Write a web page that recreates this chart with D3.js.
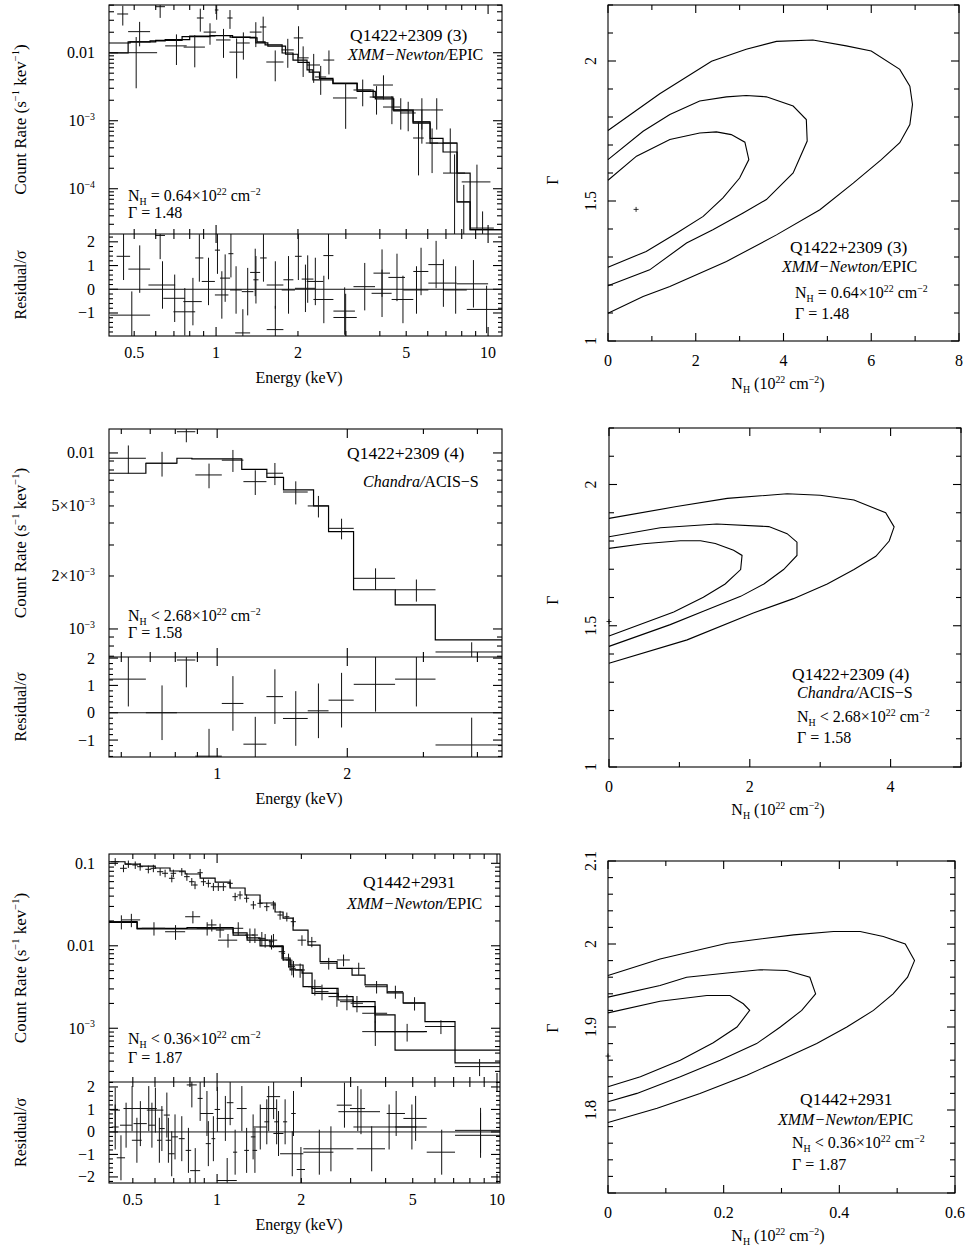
<!DOCTYPE html>
<html><head><meta charset="utf-8">
<script src="https://cdn.jsdelivr.net/npm/d3@7"></script>
<style>
body{margin:0;background:#fff}
svg{display:block}
text{font-family:"Liberation Serif","Times New Roman",serif;fill:#000}
</style></head><body>
<svg id="c" width="966" height="1250"></svg>
<script>
// ---------- Panel 1: Q1422+2309 (3) XMM spectrum ----------
// [Elo, Ehi, rate, sigma]
const spec1Data = [
[0.433,0.475,0.0371,0.012],[0.475,0.572,0.0204,0.008],[0.41,0.607,0.0100,0.007],[0.597,0.649,0.0475,0.015],
[0.65,0.78,0.0126,0.006],[0.76,0.91,0.0121,0.006],[0.85,0.90,0.0324,0.012],[0.90,1.00,0.0201,0.007],
[0.99,1.02,0.0425,0.012],[1.10,1.15,0.0324,0.010],[1.00,1.13,0.0154,0.007],[1.12,1.26,0.0102,0.006],
[1.19,1.33,0.0139,0.006],[1.33,1.47,0.0201,0.008],[1.45,1.53,0.0239,0.010],[1.53,1.77,0.0073,0.0035],
[1.74,1.93,0.0110,0.005],[1.93,2.09,0.0165,0.008],[1.99,2.19,0.0084,0.004],[2.16,2.41,0.0066,0.003],
[2.31,2.54,0.0044,0.002],[2.48,2.72,0.0078,0.003],[2.69,3.30,0.00216,0.0014],[3.20,3.72,0.00283,0.0012],
[3.67,4.11,0.00223,0.001],[3.78,4.47,0.00335,0.0013],[4.11,4.75,0.00159,0.0007],[4.47,5.08,0.00144,0.0007],
[4.75,5.42,0.0013,0.0006],[5.30,6.12,0.00144,0.0007],[6.12,6.83,0.00144,0.0007],[5.30,6.12,0.00096,0.0005],
[5.30,5.80,0.000557,0.0004],[5.90,6.55,0.00047,0.0003],[6.83,7.69,0.00047,0.0003],[6.83,8.23,0.00017,0.00015],
[8.00,10.2,0.000126,0.0001],[7.69,8.59,6.4e-5,5e-5],[8.59,10.5,2.64e-5,2e-5]
];
// [Elo, Ehi, model rate]
const spec1ModelA = [
[0.404,0.483,0.0139],[0.483,0.572,0.0144],[0.572,0.65,0.0149],[0.65,0.80,0.0156],[0.80,0.99,0.0176],
[0.99,1.126,0.0179],[1.126,1.334,0.0170],[1.334,1.415,0.0165],[1.415,1.514,0.0144],[1.514,1.749,0.0130],
[1.749,1.918,0.0099],[1.918,2.16,0.0078],[2.16,2.27,0.0056],[2.27,2.69,0.0040],[2.69,3.30,0.00358],
[3.30,3.78,0.00283],[3.78,4.47,0.00223],[4.47,5.30,0.00144],[5.30,6.12,0.00096],[6.12,6.83,0.00047],
[6.83,7.69,0.000347],[7.69,8.59,0.00017],[8.59,11.25,2.5e-5]
];
const spec1ModelB = [
[0.404,0.475,0.0099],[0.475,0.60,0.0144],[0.60,0.75,0.0152],[0.75,0.95,0.0172],[0.95,1.15,0.0178],
[1.15,1.40,0.0168],[1.40,1.55,0.0140],[1.55,1.80,0.0125],[1.80,2.00,0.0095],[2.00,2.20,0.0072],
[2.20,2.40,0.0052],[2.40,2.69,0.0042],[2.69,3.30,0.0035],[3.30,3.85,0.0027],[3.85,4.50,0.0021],
[4.50,5.30,0.0014],[5.30,6.12,0.00092],[6.12,6.83,0.00055],[6.83,7.69,0.00047],[7.69,8.59,6.4e-5],
[8.59,11.25,2.5e-5]
];
// [Elo, Ehi, residual/sigma]
const res1Data = [
[0.431,0.483,1.39],[0.408,0.572,-1.09],[0.476,0.572,0.85],[0.597,0.649,2.27],[0.564,0.707,0.18],
[0.640,0.769,-0.38],[0.697,0.838,-0.95],[0.758,0.886,-0.52],[0.838,0.898,1.32],[0.886,0.99,0.33],
[0.99,1.034,1.65],[0.99,1.11,-0.24],[1.034,1.126,0.47],[1.11,1.158,1.5],[1.126,1.243,-0.03],
[1.175,1.334,-1.84],[1.243,1.371,-0.1],[1.334,1.452,0.71],[1.371,1.432,0.4],[1.452,1.535,1.32],
[1.535,1.768,0.18],[1.535,1.768,-1.7],[1.768,1.924,0.4],[1.743,1.950,-0.03],[1.950,2.064,1.39],
[1.950,2.312,0.04],[2.064,2.28,0.43],[2.154,2.48,0.33],[2.28,2.70,-0.43],[2.48,2.70,1.42],
[2.70,3.24,-0.92],[2.70,3.29,-1.19],[3.20,3.84,0.11],[3.79,4.36,0.68],[3.73,4.42,-0.17],
[4.30,4.95,0.5],[4.42,5.31,-0.43],[4.88,6.03,-0.03],[5.31,6.03,0.75],[6.03,6.85,1.04],
[6.03,7.67,0.26],[6.85,8.35,-0.03],[7.67,10.0,0.23],[8.35,11.4,-0.85]
];

// ---------- Panel 3: Q1422+2309 (4) Chandra spectrum ----------
const spec3Data = [
[0.562,0.684,0.00933,0.0017],[0.684,0.807,0.00874,0.0014],[0.807,0.89,0.0132,0.0017],[0.89,1.025,0.0075,0.0012],
[1.025,1.15,0.0091,0.0013],[1.15,1.30,0.00687,0.0011],[1.30,1.42,0.00767,0.0011],[1.42,1.62,0.0060,0.0009],
[1.62,1.81,0.0050,0.0007],[1.81,2.07,0.00373,0.0005],[2.07,2.58,0.00194,0.00027],[2.58,3.20,0.00167,0.00024],
[3.20,4.56,0.00074,0.0001]
];
const spec3Model = [
[0.562,0.684,0.00767],[0.684,0.807,0.00874],[0.807,0.874,0.00933],[0.874,1.14,0.00925],[1.14,1.303,0.00807],
[1.303,1.424,0.00727],[1.424,1.671,0.00617],[1.671,1.81,0.0050],[1.81,2.068,0.00357],[2.068,2.582,0.00167],
[2.582,3.196,0.00137],[3.196,4.56,0.000866]
];
const res3Data = [
[0.562,0.684,1.23],[0.684,0.807,0.0],[0.807,0.89,1.93],[0.89,1.025,-1.59],[1.025,1.15,0.34],[1.15,1.30,-1.15],
[1.30,1.42,0.59],[1.42,1.62,-0.21],[1.62,1.81,0.07],[1.81,2.07,0.46],[2.07,2.58,1.04],[2.58,3.20,1.23],
[3.20,4.56,-1.18]
];

// ---------- Panel 5: Q1442+2931 XMM spectrum ----------
const spec5DataPN = [
[0.418,0.447,0.1046,0.011],[0.450,0.476,0.087,0.009],[0.470,0.494,0.098,0.010],[0.498,0.522,0.0954,0.010],
[0.518,0.544,0.091,0.0095],[0.554,0.582,0.0846,0.009],[0.578,0.606,0.0870,0.009],[0.610,0.642,0.0791,0.0085],
[0.636,0.668,0.0757,0.008],[0.673,0.705,0.0658,0.007],[0.682,0.714,0.0757,0.008],[0.731,0.765,0.0791,0.0085],
[0.762,0.798,0.0689,0.0075],[0.794,0.830,0.0598,0.0065],[0.816,0.852,0.0546,0.006],[0.851,0.889,0.0769,0.0085],
[0.875,0.913,0.0598,0.0065],[0.911,0.951,0.0572,0.0062],[0.949,0.991,0.052,0.0058],[0.988,1.032,0.052,0.0058],
[1.028,1.078,0.052,0.0058],[1.088,1.138,0.0572,0.0065],[1.134,1.186,0.0394,0.0045],[1.182,1.234,0.0413,0.0047],
[1.248,1.302,0.0377,0.0043],[1.318,1.378,0.0313,0.0036],[1.393,1.455,0.0327,0.0038],[1.472,1.538,0.0298,0.0035],
[1.554,1.624,0.0313,0.0037],[1.643,1.715,0.0236,0.0029],[1.738,1.812,0.0225,0.0028],[1.833,1.912,0.0196,0.0025],
[1.94,2.08,0.0117,0.0017],[2.10,2.26,0.0112,0.0016],[2.33,2.68,0.00614,0.0010],[2.68,2.98,0.00673,0.0011],
[3.035,3.378,0.00533,0.0009],[3.378,4.05,0.00319,0.00055],[4.05,4.62,0.00278,0.0005],[4.62,5.53,0.00201,0.00037],
[5.53,7.08,0.00105,0.0002],[7.08,10.25,0.000343,0.00008]
];
const spec5DataMOS = [
[0.42,0.49,0.0196,0.0038],[0.457,0.531,0.0206,0.0038],[0.538,0.652,0.0163,0.003],[0.652,0.769,0.0148,0.003],
[0.769,0.870,0.0225,0.0038],[0.846,0.997,0.0163,0.003],[0.92,0.995,0.0179,0.003],[0.99,1.06,0.0155,0.003],
[1.008,1.18,0.0117,0.0022],[1.14,1.24,0.0163,0.003],[1.26,1.36,0.0135,0.0027],[1.40,1.49,0.0123,0.0024],
[1.54,1.64,0.0117,0.0022],[1.66,1.75,0.00848,0.0016],[1.76,1.84,0.00673,0.0013],[1.84,1.91,0.00533,0.0012],
[1.33,1.40,0.0135,0.0027],[1.45,1.52,0.0117,0.0022],[1.53,1.60,0.0112,0.0022],[1.70,1.75,0.0081,0.0015],
[1.80,1.90,0.00558,0.0012],[1.90,2.06,0.00509,0.001],[2.11,2.36,0.00319,0.0007],[2.24,2.50,0.00278,0.0006],
[2.50,2.86,0.00242,0.0006],[2.75,3.07,0.0021,0.00045],[3.0,3.32,0.00201,0.00045],[3.3,4.05,0.00152,0.00035],
[3.3,4.05,0.00091,0.0003],[4.05,5.5,0.00091,0.00022]
];
const spec5ModelPN = [
[0.411,0.469,0.1045],[0.469,0.531,0.098],[0.531,0.601,0.0927],[0.601,0.679,0.0877],[0.679,0.769,0.0807],
[0.769,0.870,0.0742],[0.870,0.984,0.0663],[0.984,1.113,0.0593],[1.113,1.259,0.0502],[1.259,1.424,0.0413],
[1.424,1.611,0.033],[1.611,1.721,0.0257],[1.721,1.868,0.0217],[1.868,2.113,0.0155],[2.113,2.333,0.0102],
[2.333,2.683,0.00641],[2.683,3.035,0.00533],[3.035,3.378,0.00442],[3.378,4.05,0.00335],[4.05,4.62,0.00268],
[4.62,5.53,0.00203],[5.53,7.08,0.0012],[7.08,10.25,0.00038]
];
const spec5ModelMOS1 = [
[0.411,0.518,0.0196],[0.518,0.781,0.0163],[0.781,1.141,0.01667],[1.141,1.28,0.0143],[1.28,1.424,0.01245],
[1.424,1.546,0.0117],[1.546,1.721,0.00976],[1.721,1.823,0.00711],[1.823,2.028,0.00585],[2.028,2.184,0.00319],
[2.184,2.705,0.00305],[2.705,3.06,0.00242],[3.06,3.667,0.0021],[3.667,4.323,0.00145],[4.323,5.62,0.00091]
];
const spec5ModelMOS2 = [
[0.411,0.518,0.01916],[0.518,0.781,0.016],[0.781,1.141,0.016],[1.141,1.28,0.0135],[1.28,1.424,0.0117],
[1.424,1.721,0.00995],[1.721,1.823,0.00673],[1.823,2.012,0.00509],[2.012,2.184,0.00465],[2.184,2.705,0.00265],
[2.705,3.06,0.0022],[3.06,3.667,0.00183],[3.667,4.323,0.00091],[4.323,10.25,0.000542]
];
const res5Data = [
[0.415,0.450,0.97],[0.420,0.445,0.22],[0.438,0.469,-1.15],[0.450,0.496,0.30],[0.463,0.531,1.04],
[0.496,0.538,-0.37],[0.503,0.561,0.37],[0.531,0.609,1.04],[0.570,0.600,0.30],[0.561,0.643,0.97],
[0.610,0.634,-0.37],[0.620,0.650,0.15],[0.645,0.678,0.75],[0.655,0.685,-0.37],[0.672,0.705,-0.97],
[0.690,0.725,-0.22],[0.730,0.766,-0.30],[0.772,0.808,-0.82],[0.779,0.846,2.09],[0.801,0.870,-1.72],
[0.852,0.888,1.49],[0.870,0.970,0.82],[0.911,0.95,-0.52],[0.955,0.985,-0.30],[0.98,1.025,1.00],
[0.997,1.144,0.60],[0.997,1.176,-2.16],[1.083,1.144,1.30],[1.14,1.18,-0.90],[1.176,1.276,1.04],
[1.25,1.30,-0.82],[1.32,1.37,-0.22],[1.34,1.39,-0.82],[1.348,1.505,0.22],[1.475,1.535,0.45],
[1.424,1.633,1.04],[1.505,1.679,1.57],[1.60,1.665,0.45],[1.589,1.726,-0.07],[1.72,1.78,0.45],
[1.84,1.91,0.82],[1.679,2.033,-0.97],[1.925,2.061,-1.67],[2.033,2.604,-0.90],[2.033,3.069,-0.75],
[2.676,3.027,1.19],[2.713,3.82,0.90],[2.985,3.378,1.04],[3.155,3.98,-0.75],[3.069,5.165,0.22],
[4.035,4.69,0.82],[4.63,5.61,0.60],[4.321,5.61,0.22],[5.61,7.08,-0.90],[7.08,10.39,-0.15],[7.08,10.39,0.07]
];

// ---------- Tick labels ----------
const spec1XTicks = [[0.5,"0.5"],[1,"1"],[2,"2"],[5,"5"],[10,"10"]];
const spec3XTicks = [[1,"1"],[2,"2"]];
const spec5XTicks = [[0.5,"0.5"],[1,"1"],[2,"2"],[5,"5"],[10,"10"]];
const spec1YTicks = [[0.01,"0.01"],[1e-3,"10^{−3}"],[1e-4,"10^{−4}"]];
const spec3YTicks = [[0.01,"0.01"],[5e-3,"5×10^{−3}"],[2e-3,"2×10^{−3}"],[1e-3,"10^{−3}"]];
const spec5YTicks = [[0.1,"0.1"],[0.01,"0.01"],[1e-3,"10^{−3}"]];
const res1YTicks = [[2,"2"],[1,"1"],[0,"0"],[-1,"−1"]];
const res3YTicks = [[2,"2"],[1,"1"],[0,"0"],[-1,"−1"]];
const res5YTicks = [[2,"2"],[1,"1"],[0,"0"],[-1,"−1"],[-2,"−2"]];

// ---------- Contours: [N_H (1e22), Gamma] ----------
const cont2Outer = [[0,1.752],[0.57,1.815],[1.18,1.883],[2.36,1.999],[3.15,2.042],[3.84,2.07],[4.67,2.075],[5.43,2.054],[6.0,2.036],[6.65,1.97],[6.88,1.91],[6.94,1.845],[6.88,1.773],[6.65,1.708],[6.23,1.648],[5.59,1.564],[4.83,1.469],[3.84,1.379],[2.70,1.284],[1.41,1.195],[0.80,1.159],[0,1.099]];
const cont2Mid = [[0,1.648],[0.80,1.749],[1.41,1.809],[2.09,1.857],[2.70,1.872],[3.15,1.877],[3.61,1.872],[4.22,1.839],[4.52,1.791],[4.54,1.714],[4.22,1.600],[3.61,1.505],[3.08,1.457],[2.39,1.397],[1.79,1.350],[0.95,1.254],[0,1.197]];
const cont2Inner = [[0,1.574],[0.65,1.660],[1.41,1.720],[2.09,1.743],[2.47,1.747],[2.81,1.737],[3.12,1.710],[3.21,1.648],[3.0,1.582],[2.62,1.511],[2.17,1.445],[1.56,1.385],[0.87,1.320],[0,1.263]];
const best2 = [0.64,1.47];
const cont4Outer = [[0,1.880],[0.96,1.922],[1.68,1.951],[2.53,1.967],[3.0,1.962],[3.48,1.945],[3.93,1.900],[4.05,1.850],[3.98,1.800],[3.79,1.746],[3.48,1.699],[3.10,1.648],[2.62,1.596],[2.05,1.545],[1.11,1.450],[0,1.367]];
const cont4Mid = [[0,1.815],[0.73,1.847],[1.53,1.860],[2.27,1.851],[2.53,1.826],[2.67,1.796],[2.67,1.749],[2.48,1.699],[2.20,1.648],[1.87,1.604],[1.34,1.551],[0.87,1.504],[0,1.427]];
const cont4Inner = [[0,1.774],[0.49,1.790],[1.01,1.801],[1.30,1.801],[1.51,1.791],[1.77,1.767],[1.89,1.749],[1.87,1.699],[1.65,1.648],[1.34,1.601],[0.92,1.549],[0,1.464]];
const best4 = [0,1.515];
const cont6Outer = [[0,1.962],[0.090,1.982],[0.206,2.001],[0.321,2.011],[0.390,2.015],[0.436,2.015],[0.476,2.009],[0.514,2.000],[0.530,1.980],[0.518,1.960],[0.493,1.940],[0.459,1.920],[0.413,1.900],[0.361,1.880],[0.298,1.860],[0.240,1.842],[0.159,1.820],[0.085,1.802],[0,1.785]];
const cont6Mid = [[0,1.936],[0.090,1.950],[0.136,1.960],[0.206,1.965],[0.263,1.969],[0.309,1.968],[0.349,1.960],[0.359,1.940],[0.335,1.920],[0.298,1.900],[0.257,1.880],[0.194,1.860],[0.125,1.840],[0.050,1.820],[0,1.810]];
const cont6Inner = [[0,1.917],[0.090,1.931],[0.171,1.938],[0.211,1.938],[0.234,1.928],[0.245,1.920],[0.223,1.900],[0.182,1.881],[0.125,1.860],[0.056,1.840],[0,1.828]];
const best6 = [0,1.865];
const cont2XTicks = [[0,"0"],[2,"2"],[4,"4"],[6,"6"],[8,"8"]];
const cont2YTicks = [[1,"1"],[1.5,"1.5"],[2,"2"]];
const cont4XTicks = [[0,"0"],[2,"2"],[4,"4"]];
const cont4YTicks = [[1,"1"],[1.5,"1.5"],[2,"2"]];
const cont6XTicks = [[0,"0"],[0.2,"0.2"],[0.4,"0.4"],[0.6,"0.6"]];
const cont6YTicks = [[1.8,"1.8"],[1.9,"1.9"],[2,"2"],[2.1,"2.1"]];

// ---------- drawing helpers ----------
const svg = d3.select('#c');
const defs = svg.append('defs');

function parseRich(s){
  const out=[]; const re=/\^\{([^}]*)\}|_\{([^}]*)\}|\*([^*]*)\*|([^^_*]+)/g; let m;
  while((m=re.exec(s))){
    if(m[1]!==undefined) out.push({t:m[1],sup:1});
    else if(m[2]!==undefined) out.push({t:m[2],sub:1});
    else if(m[3]!==undefined) out.push({t:m[3],it:1});
    else out.push({t:m[4]});
  }
  return out;
}
function txt(x,y,s,o={}){
  const size=o.size||16;
  const t=svg.append('text').attr('x',x).attr('y',y).attr('font-size',size)
    .attr('text-anchor',o.anchor||'start');
  if(o.rot) t.attr('transform',`rotate(-90,${x},${y})`);
  let cur=0;
  parseRich(s).forEach(sg=>{
    const tgt = sg.sup? -0.4*size : sg.sub? 0.22*size : 0;
    const ts=t.append('tspan').attr('dy',(tgt-cur).toFixed(2)).text(sg.t);
    if(sg.sup||sg.sub) ts.attr('font-size',(size*0.62).toFixed(1));
    if(sg.it) ts.attr('font-style','italic');
    cur=tgt;
  });
  return t;
}
function ln(g,x1,y1,x2,y2){
  g.append('line').attr('x1',x1).attr('y1',y1).attr('x2',x2).attr('y2',y2);
}
function linTicks(dom, step){
  const a=Math.ceil(dom[0]/step-1e-9), b=Math.floor(dom[1]/step+1e-9);
  const out=[]; for(let i=a;i<=b;i++) out.push(+(i*step).toFixed(6)); return out;
}
function isMult(v,s){ const q=v/s; return Math.abs(q-Math.round(q))<1e-6; }

function stepPath(x,y,model){
  let d='', prevHi=null;
  model.forEach(([lo,hi,v])=>{
    const py=y(v);
    if(prevHi!==null && Math.abs(prevHi-lo)<1e-9) d+=`L${x(lo)},${py}`;
    else d+=`M${x(lo)},${py}`;
    d+=`L${x(hi)},${py}`;
    prevHi=hi;
  });
  return d;
}

function specPanel(c){
  const x=d3.scaleLog().domain(c.xDom).range([c.L,c.R]);
  const y=d3.scaleLog().domain(c.yDom).range([c.M,c.T]);
  const r=d3.scaleLinear().domain(c.rDom).range([c.B,c.M]);
  defs.append('clipPath').attr('id','cs'+c.id).append('rect')
    .attr('x',c.L).attr('y',c.T).attr('width',c.R-c.L).attr('height',c.M-c.T);
  defs.append('clipPath').attr('id','cr'+c.id).append('rect')
    .attr('x',c.L).attr('y',c.M).attr('width',c.R-c.L).attr('height',c.B-c.M);
  const ax=svg.append('g').attr('stroke','#000').attr('stroke-width',1.1).attr('fill','none');
  ax.append('rect').attr('x',c.L).attr('y',c.T).attr('width',c.R-c.L).attr('height',c.B-c.T);
  ln(ax,c.L,c.M,c.R,c.M);
  x.ticks().forEach(v=>{
    const maj=c.xMajor.some(m=>Math.abs(m-v)/m<1e-6); const L=maj?9:5; const px=x(v);
    ln(ax,px,c.T,px,c.T+L); ln(ax,px,c.M,px,c.M-L); ln(ax,px,c.M,px,c.M+L); ln(ax,px,c.B,px,c.B-L);
  });
  y.ticks().forEach(v=>{
    const lg=Math.log10(v); const maj=Math.abs(lg-Math.round(lg))<1e-6; const L=maj?9:5; const py=y(v);
    ln(ax,c.L,py,c.L+L,py); ln(ax,c.R,py,c.R-L,py);
  });
  linTicks(c.rDom,0.2).forEach(v=>{
    const maj=isMult(v,1); const L=maj?9:4; const py=r(v);
    ln(ax,c.L,py,c.L+L,py); ln(ax,c.R,py,c.R-L,py);
  });
  c.xTicks.forEach(([v,l])=>txt(x(v),c.B+22,l,{anchor:'middle'}));
  c.yTicks.forEach(([v,l])=>txt(95,y(v)+5.5,l,{anchor:'end'}));
  c.rTicks.forEach(([v,l])=>txt(95,r(v)+5.5,l,{anchor:'end'}));
  txt(299,c.B+47,'Energy (keV)',{anchor:'middle'});
  txt(26,(c.T+c.M)/2,'Count Rate (s^{−1} kev^{−1})',{anchor:'middle',rot:1,size:17});
  txt(26,(c.M+c.B)/2,'Residual/σ',{anchor:'middle',rot:1});
  const gs=svg.append('g').attr('clip-path',`url(#cs${c.id})`).attr('fill','none');
  c.models.forEach(m=>gs.append('path').attr('d',stepPath(x,y,m)).attr('stroke','#000').attr('stroke-width',1.2));
  const gd=gs.append('g').attr('stroke','#111').attr('stroke-width',1);
  c.data.forEach(set=>set.forEach(([lo,hi,v,s])=>{
    const py=y(v), cx=x((lo+hi)/2);
    ln(gd,x(lo),py,x(hi),py);
    ln(gd,cx,y(v+s),cx,y(Math.max(v-s,c.yDom[0]*0.3)));
  }));
  const gr=svg.append('g').attr('clip-path',`url(#cr${c.id})`).attr('stroke','#111').attr('stroke-width',1);
  ln(gr,c.L,r(0),c.R,r(0));
  c.res.forEach(([lo,hi,v])=>{
    const py=r(v), cx=x((lo+hi)/2);
    ln(gr,x(lo),py,x(hi),py);
    ln(gr,cx,r(v+1),cx,r(v-1));
  });
  c.notes.forEach(n=>txt(n[0],n[1],n[2],{size:n[3]||16}));
}

function contPanel(c){
  const x=d3.scaleLinear().domain(c.xDom).range([c.L,c.R]);
  const y=d3.scaleLinear().domain(c.yDom).range([c.B,c.T]);
  const ax=svg.append('g').attr('stroke','#000').attr('stroke-width',1.1).attr('fill','none');
  ax.append('rect').attr('x',c.L).attr('y',c.T).attr('width',c.R-c.L).attr('height',c.B-c.T);
  linTicks(c.xDom,c.xMinor).forEach(v=>{
    const L=isMult(v,c.xMajor)?8:5; const px=x(v);
    ln(ax,px,c.B,px,c.B-L); ln(ax,px,c.T,px,c.T+L);
  });
  linTicks(c.yDom,c.yMinor).forEach(v=>{
    const L=isMult(v,c.yMajor)?8:5; const py=y(v);
    ln(ax,c.L,py,c.L+L,py); ln(ax,c.R,py,c.R-L,py);
  });
  c.xTicks.forEach(([v,l])=>txt(x(v),c.B+25,l,{anchor:'middle'}));
  c.yTicks.forEach(([v,l])=>txt(596,y(v),l,{anchor:'middle',rot:1}));
  txt(778,c.B+48,'N_{H} (10^{22} cm^{−2})',{anchor:'middle'});
  txt(558,c.gy,'Γ',{anchor:'middle',rot:1});
  const line=d3.line().x(d=>x(d[0])).y(d=>y(d[1]));
  const g=svg.append('g').attr('fill','none').attr('stroke','#000').attr('stroke-width',1.1);
  c.contours.forEach(cc=>g.append('path').attr('d',line(cc)));
  const bx=x(c.best[0]), by=y(c.best[1]);
  const gb=svg.append('g').attr('stroke','#000').attr('stroke-width',0.8);
  ln(gb,bx-2.5,by,bx+2.5,by); ln(gb,bx,by-2.5,bx,by+2.5);
  c.notes.forEach(n=>txt(n[0],n[1],n[2],{size:n[3]||16}));
}

// ---------- panels ----------
specPanel({id:1,L:109,R:502,T:5,M:234,B:336,xDom:[0.404,11.25],yDom:[2.16e-5,0.0503],rDom:[-1.97,2.33],
  xMajor:[1,10],xTicks:spec1XTicks,yTicks:spec1YTicks,rTicks:res1YTicks,
  models:[spec1ModelA,spec1ModelB],data:[spec1Data],res:res1Data,
  notes:[[350,41,'Q1422+2309 (3)',17.5],[348,60,'*XMM−Newton/*EPIC'],[128,201,'N_{H} = 0.64×10^{22} cm^{−2}'],[128,218,'Γ = 1.48']]});

specPanel({id:3,L:109,R:502,T:429,M:657,B:757,xDom:[0.562,4.56],yDom:[6.93e-4,0.01368],rDom:[-1.62,2.04],
  xMajor:[1,2],xTicks:spec3XTicks,yTicks:spec3YTicks,rTicks:res3YTicks,
  models:[spec3Model],data:[spec3Data],res:res3Data,
  notes:[[347,459,'Q1422+2309 (4)',17.5],[363,487,'*Chandra/*ACIS−S'],[128,621,'N_{H} < 2.68×10^{22} cm^{−2}'],[128,638,'Γ = 1.58']]});

specPanel({id:5,L:109,R:500,T:854,M:1082,B:1183,xDom:[0.411,10.25],yDom:[2.23e-4,0.1297],rDom:[-2.27,2.22],
  xMajor:[1,10],xTicks:spec5XTicks,yTicks:spec5YTicks,rTicks:res5YTicks,
  models:[spec5ModelPN,spec5ModelMOS1,spec5ModelMOS2],data:[spec5DataPN,spec5DataMOS],res:res5Data,
  notes:[[363,888,'Q1442+2931',17.5],[347,909,'*XMM−Newton/*EPIC'],[128,1044,'N_{H} < 0.36×10^{22} cm^{−2}'],[128,1063,'Γ = 1.87']]});

contPanel({L:608,R:959,T:5,B:341,xDom:[0,8],yDom:[1,2.2],xMinor:1,xMajor:2,yMinor:0.1,yMajor:0.5,
  xTicks:cont2XTicks,yTicks:cont2YTicks,gy:180,contours:[cont2Outer,cont2Mid,cont2Inner],best:best2,
  notes:[[790,253,'Q1422+2309 (3)',17.5],[782,272,'*XMM−Newton/*EPIC'],[795,298,'N_{H} = 0.64×10^{22} cm^{−2}'],[795,319,'Γ = 1.48']]});

contPanel({L:609,R:961,T:428,B:767,xDom:[0,5],yDom:[1,2.2],xMinor:1,xMajor:2,yMinor:0.1,yMajor:0.5,
  xTicks:cont4XTicks,yTicks:cont4YTicks,gy:600,contours:[cont4Outer,cont4Mid,cont4Inner],best:best4,
  notes:[[792,680,'Q1422+2309 (4)',17.5],[797,698,'*Chandra/*ACIS−S'],[797,722,'N_{H} < 2.68×10^{22} cm^{−2}'],[797,743,'Γ = 1.58']]});

contPanel({L:608,R:955,T:861,B:1193,xDom:[0,0.6],yDom:[1.7,2.1],xMinor:0.1,xMajor:0.2,yMinor:0.02,yMajor:0.1,
  xTicks:cont6XTicks,yTicks:cont6YTicks,gy:1028,contours:[cont6Outer,cont6Mid,cont6Inner],best:best6,
  notes:[[800,1105,'Q1442+2931',17.5],[778,1125,'*XMM−Newton/*EPIC'],[792,1148,'N_{H} < 0.36×10^{22} cm^{−2}'],[792,1170,'Γ = 1.87']]});
</script>
</body></html>
